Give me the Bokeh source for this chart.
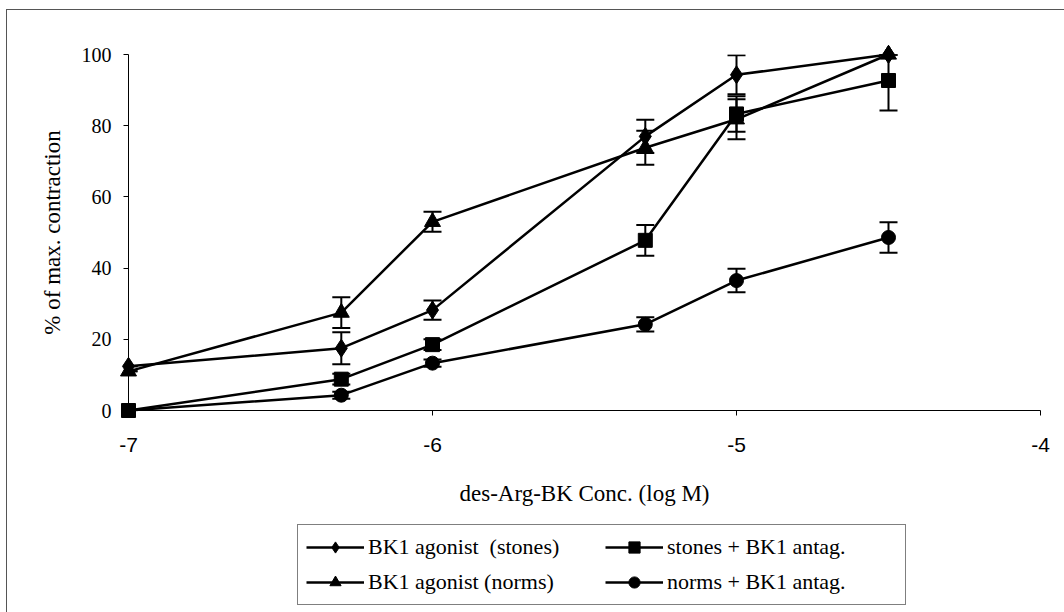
from bokeh.plotting import figure
from bokeh.layouts import column
from bokeh.models import (ColumnDataSource, Whisker, TeeHead, Legend, LegendItem,
                          FixedTicker, Range1d)
from bokeh.embed import file_html
from bokeh.resources import INLINE

# ---- data ----
log_conc = [-7, -6.3, -6, -5.3, -5, -4.5]

stones_agonist = [12.4, 17.5, 28.2, 77.0, 94.3, 100.0]
stones_agonist_err = [0.0, 4.5, 2.7, 4.7, 5.5, 0.0]

norms_agonist = [11.0, 27.5, 53.0, 73.8, 81.8, 100.0]
norms_agonist_err = [0.0, 4.3, 2.8, 4.8, 5.6, 0.0]

stones_antag = [0.0, 8.8, 18.5, 47.8, 83.3, 92.7]
stones_antag_err = [0.0, 1.5, 1.5, 4.3, 5.0, 8.4]

norms_antag = [0.0, 4.3, 13.3, 24.2, 36.5, 48.6]
norms_antag_err = [0.0, 1.0, 1.0, 2.0, 3.3, 4.3]

series_labels = ["BK1 agonist  (stones)", "BK1 agonist (norms)",
                 "stones + BK1 antag.", "norms + BK1 antag."]
x_ticks = [-7, -6, -5, -4]
x_tick_labels = ["-7", "-6", "-5", "-4"]
y_ticks = [0, 20, 40, 60, 80, 100]

SERIF = "Liberation Serif"
SANS = "Liberation Sans"

main = figure(frame_width=912, frame_height=356, output_backend="svg",
              toolbar_location=None,
              x_range=Range1d(-7, -4), y_range=Range1d(0, 100),
              min_border_left=121, min_border_right=24, min_border_top=44,
              min_border_bottom=110)
main.xgrid.visible = False
main.ygrid.visible = False
main.outline_line_color = None
main.background_fill_color = "white"
main.border_fill_color = "white"

# axes
main.xaxis.ticker = FixedTicker(ticks=x_ticks)
main.yaxis.ticker = FixedTicker(ticks=y_ticks)
main.xaxis.major_label_overrides = {t: s for t, s in zip(x_ticks, x_tick_labels)}
main.xaxis.minor_tick_line_color = None
main.yaxis.minor_tick_line_color = None
for ax in (main.xaxis, main.yaxis):
    ax.axis_line_color = "black"
    ax.axis_line_width = 1
    ax.major_tick_line_color = "black"
    ax.major_tick_in = 0
    ax.major_tick_out = 5
    ax.major_label_text_color = "black"
    ax.axis_label_text_color = "black"
    ax.axis_label_text_font_style = "normal"
    ax.axis_label_text_font = SERIF
    ax.axis_label_text_font_size = "23px"

main.xaxis.major_label_text_font = SANS
main.xaxis.major_label_text_font_size = "21px"
main.xaxis.major_label_standoff = 22
main.xaxis.axis_label = "des-Arg-BK Conc. (log M)"
main.xaxis.axis_label_standoff = 26

main.yaxis.major_label_text_font = SERIF
main.yaxis.major_label_text_font_size = "20px"
main.yaxis.major_label_standoff = 12
main.yaxis.axis_label = "% of max. contraction"
main.yaxis.axis_label_standoff = 14

series = [
    (stones_agonist, stones_agonist_err, "diamond", 18),
    (norms_agonist, norms_agonist_err, "triangle", 16),
    (stones_antag, stones_antag_err, "square", 14),
    (norms_antag, norms_antag_err, "circle", 14),
]

# legend-only figure below the chart
leg_fig = figure(width=1057, height=92, output_backend="svg",
                 toolbar_location=None, x_axis_location=None,
                 y_axis_location=None, x_range=Range1d(0, 1),
                 y_range=Range1d(0, 1), min_border=0)
leg_fig.xgrid.visible = False
leg_fig.ygrid.visible = False
leg_fig.outline_line_color = None
leg_fig.border_fill_color = "white"
leg_fig.background_fill_color = "white"

items = []
for (vals, errs, marker, size), label in zip(series, series_labels):
    src = ColumnDataSource(dict(
        x=log_conc, y=vals,
        upper=[v + e for v, e in zip(vals, errs)],
        lower=[v - e for v, e in zip(vals, errs)],
    ))
    w = Whisker(base="x", upper="upper", lower="lower", source=src,
                line_color="black", line_width=2,
                upper_head=TeeHead(size=18, line_color="black", line_width=2),
                lower_head=TeeHead(size=18, line_color="black", line_width=2))
    main.add_layout(w)
    lr = main.line("x", "y", source=src, line_color="black", line_width=2.5)
    sr = main.scatter("x", "y", source=src, marker=marker, size=size,
                      fill_color="black", line_color="black")
    lr.level = "overlay"
    sr.level = "overlay"

    # hidden copies, used only for the legend swatches
    llr = leg_fig.line("x", "y", source=src, line_color="black", line_width=2.5,
                       visible=False)
    lsr = leg_fig.scatter("x", "y", source=src, marker=marker, size=size,
                          fill_color="black", line_color="black", visible=False)
    items.append(LegendItem(label=label, renderers=[llr, lsr]))

legend = Legend(items=items, ncols=2, location=(169, 7),
                label_text_font=SERIF, label_text_font_size="22px",
                label_text_color="black", label_width=230,
                glyph_width=58, glyph_height=28, label_standoff=4,
                spacing=7, padding=8, margin=0,
                border_line_color="black", border_line_width=1,
                background_fill_color="white")
leg_fig.add_layout(legend, "center")

p = column(main, leg_fig, spacing=0, margin=(10, 0, 0, 7),
           styles={"outline": "1px solid #555555"})

open("out.html", "w").write(file_html(p, INLINE))
